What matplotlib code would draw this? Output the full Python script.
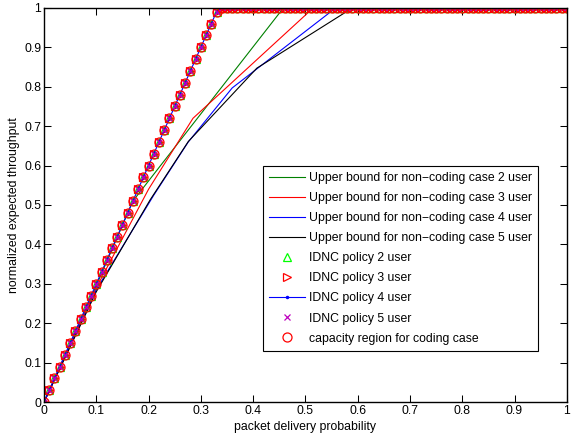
import numpy as np
import matplotlib.pyplot as plt
from matplotlib.ticker import FuncFormatter

plt.rcParams['font.family'] = ['Liberation Sans', 'DejaVu Sans']

# packet delivery probability grid used for the simulated policies
p = np.linspace(0, 1, 101)

# throughput (same for all policies / capacity region)
thr_rise = [0.00, 0.03, 0.06, 0.09, 0.12, 0.15, 0.18, 0.21, 0.24, 0.27,
            0.30, 0.33, 0.36, 0.39, 0.42, 0.45, 0.48, 0.51, 0.54, 0.57,
            0.60, 0.63, 0.66, 0.69, 0.72, 0.75, 0.78, 0.81, 0.84, 0.87,
            0.90, 0.93, 0.96, 0.99]
thr_flat = [1.0] * (101 - len(thr_rise))
idnc2 = thr_rise + thr_flat
idnc3 = thr_rise + thr_flat
idnc4 = thr_rise + thr_flat
idnc5 = thr_rise + thr_flat
capacity = thr_rise + thr_flat

# upper bounds for non-coding case (piecewise)
ub2_x = [0, 0.10, 0.17, 0.458, 1.0]
ub2_y = [0, 0.295, 0.51, 1.0, 1.0]
ub3_x = [0, 0.10, 0.20, 0.285, 0.515, 1.0]
ub3_y = [0, 0.29, 0.54, 0.72, 1.0, 1.0]
ub4_x = [0, 0.10, 0.21, 0.276, 0.36, 0.558, 1.0]
ub4_y = [0, 0.285, 0.525, 0.66, 0.797, 1.0, 1.0]
ub5_x = [0, 0.10, 0.203, 0.276, 0.407, 0.59, 1.0]
ub5_y = [0, 0.28, 0.513, 0.661, 0.847, 1.0, 1.0]

fig = plt.figure(figsize=(5.79, 4.38), dpi=100)
ax = fig.add_axes([0.076, 0.082, 0.903, 0.900])

lw = 0.8
fs = 8.8
ax.plot(ub2_x, ub2_y, color=(0, 0.5, 0), lw=lw, label='Upper bound for non\u2212coding case 2 user')
ax.plot(ub3_x, ub3_y, color='r', lw=lw, label='Upper bound for non\u2212coding case 3 user')
ax.plot(ub4_x, ub4_y, color='b', lw=lw, label='Upper bound for non\u2212coding case 4 user')
ax.plot(ub5_x, ub5_y, color='k', lw=lw, label='Upper bound for non\u2212coding case 5 user')
ax.plot(p, idnc2, ls='none', marker='^', ms=6, mfc='none', mec=(0, 1, 0), mew=0.9,
        label='IDNC policy 2 user')
ax.plot(p, idnc3, ls='none', marker='>', ms=6, mfc='none', mec='r', mew=0.9,
        label='IDNC policy 3 user')
ax.plot(p, idnc4, color='b', lw=lw, marker='.', ms=3, label='IDNC policy 4 user')
ax.plot(p, idnc5, ls='none', marker='x', ms=4, color='m', mew=0.9,
        label='IDNC policy 5 user')
ax.plot(p, capacity, ls='none', marker='o', ms=6.5, mfc='none', mec='r', mew=0.9,
        label='capacity region for coding case')

ax.set_xlim(0, 1)
ax.set_ylim(0, 1)
ax.set_xticks(np.linspace(0, 1, 11))
ax.set_yticks(np.linspace(0, 1, 11))
fmt = FuncFormatter(lambda v, pos: '%g' % round(v, 2))
ax.xaxis.set_major_formatter(fmt)
ax.yaxis.set_major_formatter(fmt)
ax.tick_params(direction='in', length=5, width=0.75, top=True, right=True,
               labelsize=fs, pad=2)
for s in ax.spines.values():
    s.set_linewidth(1.0)
ax.set_xlabel('packet delivery probability', fontsize=fs, labelpad=3)
ax.set_ylabel('normalized expected throughput', fontsize=fs, labelpad=3)

leg = ax.legend(loc='upper left', bbox_to_anchor=(0.418, 0.599), borderaxespad=0,
                fontsize=fs, fancybox=False, framealpha=1, edgecolor='k',
                handlelength=2.95, labelspacing=0.66, borderpad=0.5, handletextpad=0.35)
leg.get_frame().set_linewidth(0.8)

fig.savefig('out.png', dpi=100)
